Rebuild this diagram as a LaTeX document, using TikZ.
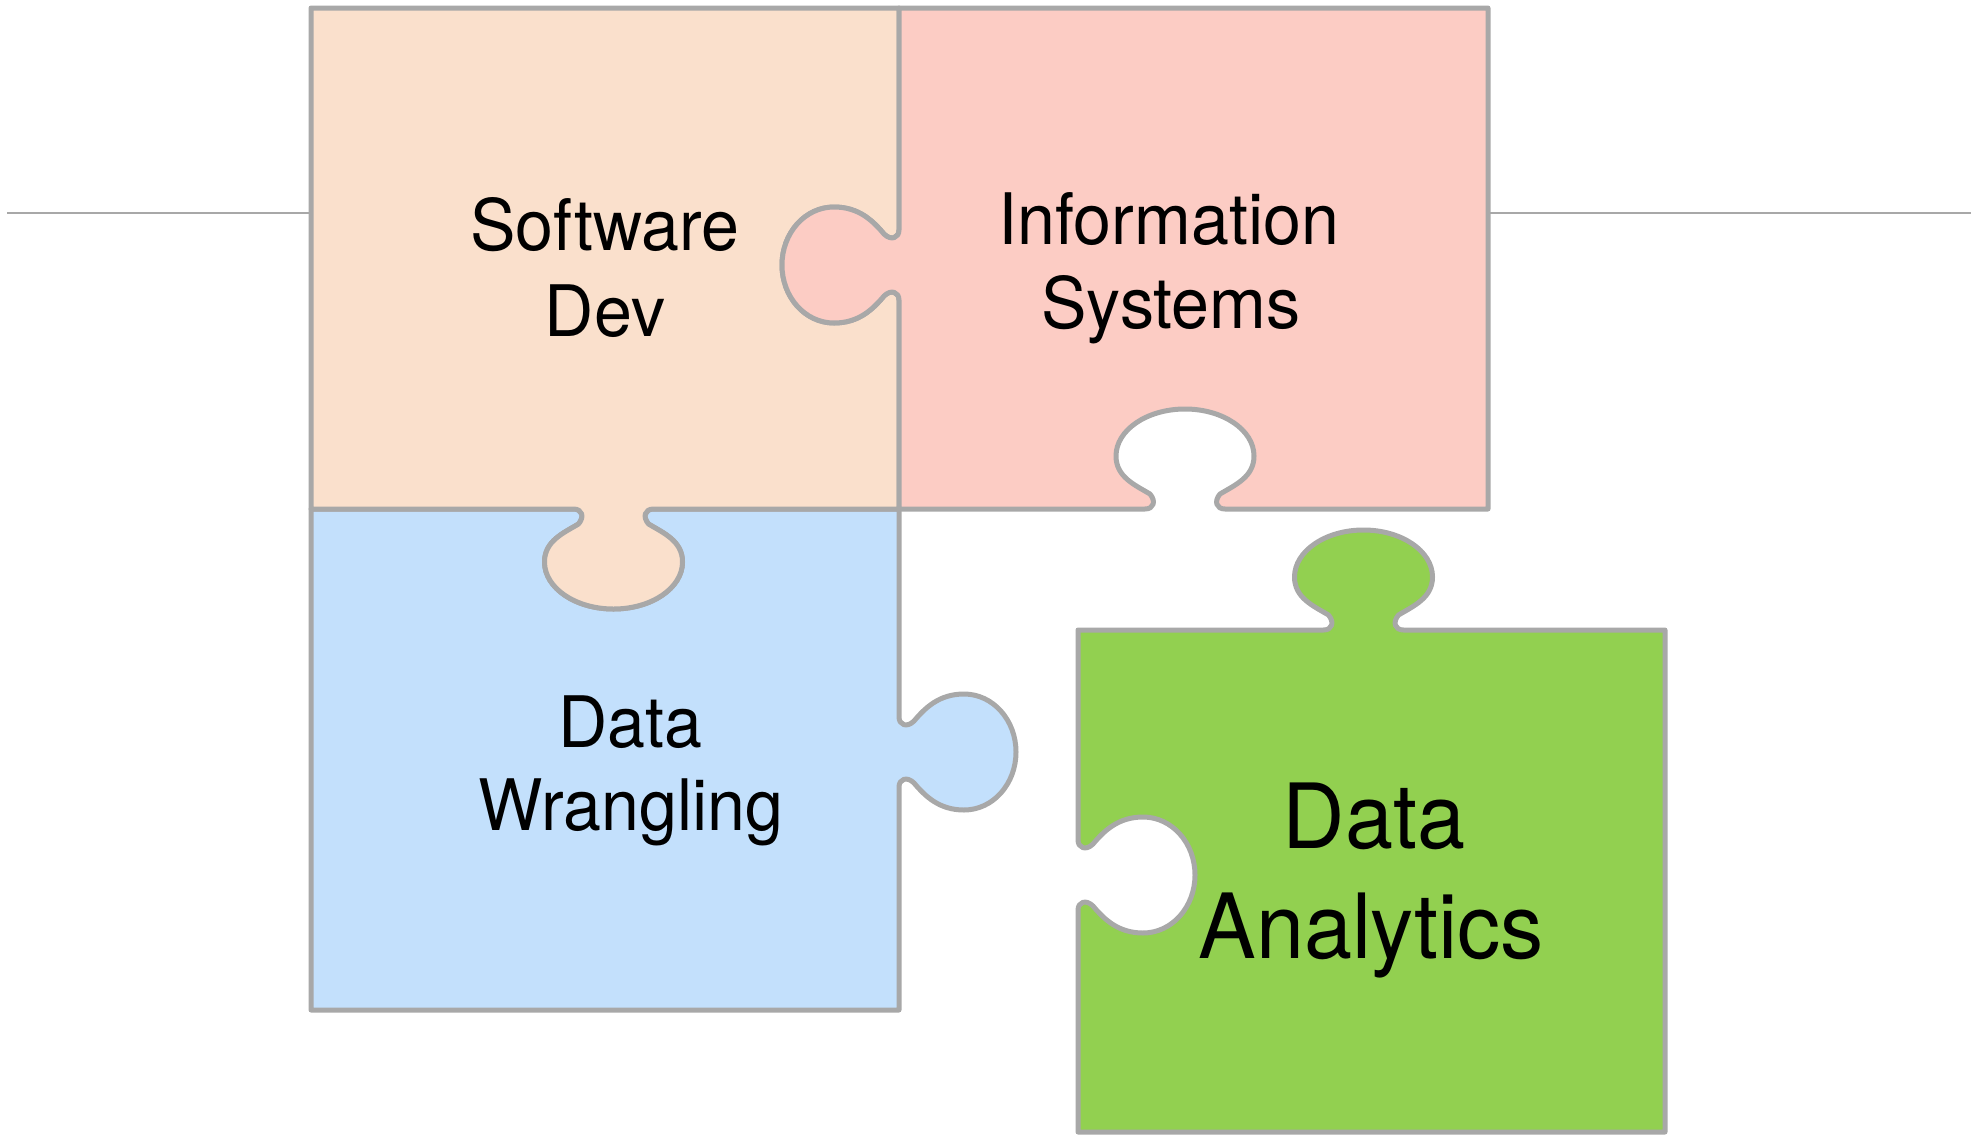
\documentclass[tikz,border=0pt]{standalone}
\usepackage{fontspec}
\setmainfont{TeX Gyre Heros}[FakeStretch=0.96]

\definecolor{sdfill}{RGB}{250,224,204}
\definecolor{isfill}{RGB}{252,204,196}
\definecolor{dwfill}{RGB}{195,224,252}
\definecolor{dafill}{RGB}{146,208,80}
\definecolor{edge}{RGB}{168,168,168}

% Knob on a straight edge: #1,#2 = centre of the knob on the edge,
% #3,#4 = unit vector along the direction of travel,
% #5,#6 = unit vector towards the knob (outward for a tab, inward for a slot).
% Round knob used on the vertical edges.
\newcommand\sideknob[6]{%
 -- ({#1-35*(#3)},{#2-35*(#4)})
 .. controls ({#1-27*(#3)},{#2-27*(#4)}) and ({#1-24*(#3)+8*(#5)},{#2-24*(#4)+8*(#6)}) .. ({#1-31*(#3)+15*(#5)},{#2-31*(#4)+15*(#6)})
 .. controls ({#1-44*(#3)+26*(#5)},{#2-44*(#4)+26*(#6)}) and ({#1-58*(#3)+40*(#5)},{#2-58*(#4)+40*(#6)}) .. ({#1-58*(#3)+65*(#5)},{#2-58*(#4)+65*(#6)})
 .. controls ({#1-58*(#3)+94*(#5)},{#2-58*(#4)+94*(#6)}) and ({#1-32*(#3)+117*(#5)},{#2-32*(#4)+117*(#6)}) .. ({#1+117*(#5)},{#2+117*(#6)})
 .. controls ({#1+32*(#3)+117*(#5)},{#2+32*(#4)+117*(#6)}) and ({#1+58*(#3)+94*(#5)},{#2+58*(#4)+94*(#6)}) .. ({#1+58*(#3)+65*(#5)},{#2+58*(#4)+65*(#6)})
 .. controls ({#1+58*(#3)+40*(#5)},{#2+58*(#4)+40*(#6)}) and ({#1+44*(#3)+26*(#5)},{#2+44*(#4)+26*(#6)}) .. ({#1+31*(#3)+15*(#5)},{#2+31*(#4)+15*(#6)})
 .. controls ({#1+24*(#3)+8*(#5)},{#2+24*(#4)+8*(#6)}) and ({#1+27*(#3)},{#2+27*(#4)}) .. ({#1+35*(#3)},{#2+35*(#4)})
}
% Oval knob used on the horizontal edges.
\newcommand\ovalknob[6]{%
 -- ({#1-40*(#3)},{#2-40*(#4)})
 .. controls ({#1-31*(#3)},{#2-31*(#4)}) and ({#1-29*(#3)+8*(#5)},{#2-29*(#4)+8*(#6)}) .. ({#1-35*(#3)+15*(#5)},{#2-35*(#4)+15*(#6)})
 .. controls ({#1-50*(#3)+24*(#5)},{#2-50*(#4)+24*(#6)}) and ({#1-69*(#3)+32*(#5)},{#2-69*(#4)+32*(#6)}) .. ({#1-69*(#3)+53*(#5)},{#2-69*(#4)+53*(#6)})
 .. controls ({#1-69*(#3)+79*(#5)},{#2-69*(#4)+79*(#6)}) and ({#1-38*(#3)+100*(#5)},{#2-38*(#4)+100*(#6)}) .. ({#1+100*(#5)},{#2+100*(#6)})
 .. controls ({#1+38*(#3)+100*(#5)},{#2+38*(#4)+100*(#6)}) and ({#1+69*(#3)+79*(#5)},{#2+69*(#4)+79*(#6)}) .. ({#1+69*(#3)+53*(#5)},{#2+69*(#4)+53*(#6)})
 .. controls ({#1+69*(#3)+32*(#5)},{#2+69*(#4)+32*(#6)}) and ({#1+50*(#3)+24*(#5)},{#2+50*(#4)+24*(#6)}) .. ({#1+35*(#3)+15*(#5)},{#2+35*(#4)+15*(#6)})
 .. controls ({#1+29*(#3)+8*(#5)},{#2+29*(#4)+8*(#6)}) and ({#1+31*(#3)},{#2+31*(#4)}) .. ({#1+40*(#3)},{#2+40*(#4)})
}

\begin{document}
\begin{tikzpicture}[x=0.5pt,y=-0.5pt,
  piece/.style={draw=edge, line width=2.5pt, line join=round},
  rule/.style={draw=edge, line width=1pt},
  lbl/.style={font=\fontsize{35.5}{42}\selectfont, inner sep=0pt, anchor=base},
  biglbl/.style={font=\fontsize{45}{54}\selectfont, inner sep=0pt, anchor=base}]
\useasboundingbox (0,0) rectangle (1977,1136);

% Data Wrangling
\path[piece, fill=dwfill] (311,509) \ovalknob{613.5}{509}{1}{0}{0}{1} -- (899,509)
  \sideknob{899}{752}{0}{1}{1}{0} -- (899,1010) -- (311,1010) -- cycle;

% Software Dev
\path[piece, fill=sdfill] (311,8) -- (899,8)
  \sideknob{899}{265}{0}{1}{-1}{0} -- (899,509)
  \ovalknob{613.5}{509}{-1}{0}{0}{1} -- (311,509) -- cycle;

% Information Systems
\path[piece, fill=isfill] (899,8) -- (1488,8) -- (1488,509)
  \ovalknob{1185}{509}{-1}{0}{0}{-1} -- (899,509)
  \sideknob{899}{265}{0}{-1}{-1}{0} -- cycle;

% Data Analytics
\path[piece, fill=dafill] (1078,630) \ovalknob{1363.5}{630}{1}{0}{0}{-1} -- (1665,630)
  -- (1665,1132) -- (1078,1132)
  \sideknob{1078}{875}{0}{-1}{1}{0} -- cycle;

% horizontal rule through the top row
\coordinate (ruleL) at (7,213);
\coordinate (sdL) at (311,213);
\coordinate (isR) at (1488,213);
\coordinate (ruleR) at (1971,213);
\draw[rule] (ruleL) -- (sdL);
\draw[rule] (isR) -- (ruleR);

% labels
\node[lbl] (sd1) at (605,250) {Software};
\node[lbl] (sd2) at (605,336) {Dev};
\node[lbl] (is1) at (1169,244) {Information};
\node[lbl] (is2) at (1171,328) {Systems};
\node[lbl] (dw1) at (630,747) {Data};
\node[lbl] (dw2) at (631,830) {Wrangling};
\node[biglbl] (da1) at (1374,848) {Data};
\node[biglbl] (da2) at (1371,958) {Analytics};
\end{tikzpicture}
\end{document}
